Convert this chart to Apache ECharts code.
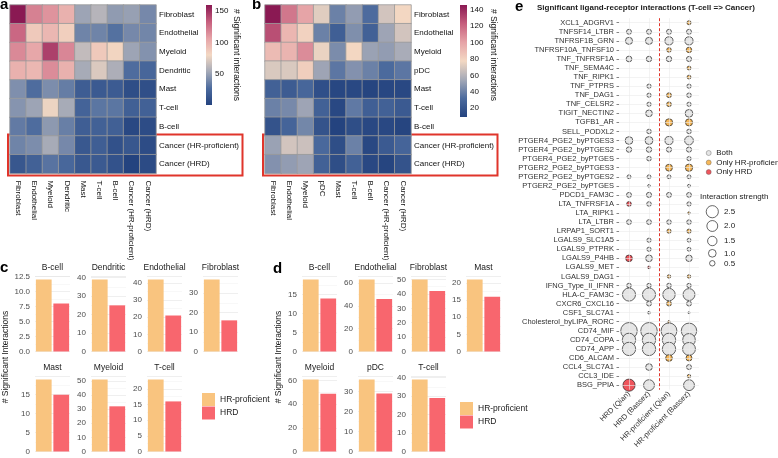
<!DOCTYPE html>
<html>
<head>
<meta charset="utf-8">
<script src="https://cdn.jsdelivr.net/npm/echarts@6/dist/echarts.min.js"></script>
<style>
  html, body { margin: 0; padding: 0; background: #fff; }
  #chart { width: 778px; height: 458px; }
</style>
</head>
<body>
<div id="chart"></div>
<script>
// ---------- data ----------
const heatRowsA = ["Fibroblast", "Endothelial", "Myeloid", "Dendritic", "Mast", "T-cell", "B-cell", "Cancer (HR-proficient)", "Cancer (HRD)"];
const heatA = [
  [160, 120, 113, 100, 52, 60, 48, 50, 40],
  [130, 88, 97, 85, 38, 38, 30, 40, 39],
  [117, 105, 145, 118, 64, 88, 82, 52, 44],
  [100, 97, 116, 100, 55, 72, 57, 28, 24],
  [43, 28, 42, 35, 18, 16, 17, 8, 9],
  [45, 52, 78, 55, 22, 32, 32, 20, 21],
  [34, 28, 47, 36, 19, 21, 20, 4, 7],
  [38, 42, 55, 40, 15, 19, 10, 14, 7],
  [14, 21, 31, 25, 15, 16, 11, 1, 6]
];
const heatTicksA = [50, 100, 150];

const heatRowsB = ["Fibroblast", "Endothelial", "Myeloid", "pDC", "Mast", "T-cell", "B-cell", "Cancer (HR-proficient)", "Cancer (HRD)"];
const heatB = [
  [146, 115, 100, 72, 40, 50, 32, 68, 78],
  [128, 92, 80, 40, 25, 45, 26, 53, 68],
  [90, 93, 108, 75, 44, 78, 52, 50, 56],
  [70, 70, 82, 53, 36, 46, 40, 31, 36],
  [26, 23, 29, 16, 11, 12, 10, 11, 12],
  [40, 43, 53, 26, 12, 37, 25, 26, 22],
  [18, 28, 42, 18, 9, 15, 12, 12, 10],
  [52, 68, 66, 30, 15, 40, 12, 22, 28],
  [46, 50, 53, 26, 15, 26, 12, 10, 18]
];
const heatTicksB = [20, 40, 60, 80, 100, 120, 140];

const groups = ["HR-proficient", "HRD"];

const cellsC = ["B-cell", "Dendritic", "Endothelial", "Fibroblast", "Mast", "Myeloid", "T-cell"];
const hrpC = [12, 39, 42, 37, 19, 51, 23];
const hrdC = [8, 25, 21, 16, 15, 32, 16];
const stepC = [2.5, 10, 10, 10, 5, 10, 5];

const cellsD = ["B-cell", "Endothelial", "Fibroblast", "Mast", "Myeloid", "pDC", "T-cell"];
const hrpD = [19, 63, 50, 21, 61, 36, 39];
const hrdD = [14, 46, 42, 16, 49, 29, 29];
const stepD = [5, 20, 10, 5, 20, 10, 10];

const lrCols = ["HRD (Qian)", "HRD (Bassez)", "HR-proficient (Qian)", "HR-proficient (Bassez)"];
const lrPairs = [
  "XCL1_ADGRV1", "TNFSF14_LTBR", "TNFRSF1B_GRN", "TNFRSF10A_TNFSF10", "TNF_TNFRSF1A",
  "TNF_SEMA4C", "TNF_RIPK1", "TNF_PTPRS", "TNF_DAG1", "TNF_CELSR2",
  "TIGIT_NECTIN2", "TGFB1_AR", "SELL_PODXL2", "PTGER4_PGE2_byPTGES3", "PTGER4_PGE2_byPTGES2",
  "PTGER4_PGE2_byPTGES", "PTGER2_PGE2_byPTGES3", "PTGER2_PGE2_byPTGES2", "PTGER2_PGE2_byPTGES", "PDCD1_FAM3C",
  "LTA_TNFRSF1A", "LTA_RIPK1", "LTA_LTBR", "LRPAP1_SORT1", "LGALS9_SLC1A5",
  "LGALS9_PTPRK", "LGALS9_P4HB", "LGALS9_MET", "LGALS9_DAG1", "IFNG_Type_II_IFNR",
  "HLA-C_FAM3C", "CXCR6_CXCL16", "CSF1_SLC7A1", "Cholesterol_byLIPA_RORC", "CD74_MIF",
  "CD74_COPA", "CD74_APP", "CD6_ALCAM", "CCL4_SLC7A1", "CCL3_IDE", "BSG_PPIA"
];
// interaction strength per column (null = not significant)
const strHRDQian = [null, 0.42, 0.85, null, 0.55, null, null, null, null, null, null, null, null, 1.0, 0.5, null, null, 0.25, null, 0.42, 0.37, null, 0.4, null, null, null, 0.75, null, null, 0.35, 2.9, null, null, null, 4.6, 3.0, 3.0, null, null, null, 2.5];
const strHRDBassez = [null, 0.42, 0.85, null, 0.5, null, null, 0.3, 0.3, 0.3, 0.75, null, 0.35, 1.05, 0.5, 0.35, null, 0.25, 0.12, 0.45, 0.35, null, 0.4, null, 0.3, 0.3, 0.75, 0.12, null, 0.32, 2.9, 0.4, 0.12, null, 4.6, 3.0, 3.0, null, 0.75, null, 2.0];
const strHRPQian = [null, 0.42, 1.1, 0.35, 0.5, null, null, null, 0.4, 0.38, null, 0.9, null, 1.1, 0.45, null, 0.8, 0.25, null, 0.42, null, null, 0.35, 0.3, null, null, null, null, 0.2, 0.35, 2.6, 0.4, null, 0.1, 4.2, 3.0, 3.0, 0.75, null, null, null];
const strHRPBassez = [0.28, 0.42, 1.1, 0.5, 0.45, 0.25, 0.25, 0.3, 0.35, 0.3, 1.0, 0.85, 0.35, 1.3, 0.45, 0.3, 0.9, 0.25, 0.15, 0.4, 0.3, 0.1, 0.35, 0.3, 0.25, 0.25, 0.7, null, 0.2, 0.32, 2.4, 0.4, 0.07, null, 4.0, 2.7, 2.8, 0.6, 0.42, 0.2, 2.0];
const kinds = ["Both", "Only HR-proficient", "Only HRD"];
const sizeLegend = [2.5, 2.0, 1.5, 1.0, 0.5];

// ---------- styling ----------
const font = "Liberation Sans, Arial, Helvetica, sans-serif";
const heatPalette = ["#24437f", "#4c6b9e", "#a4a9b7", "#f3d8c3", "#e6a3a7", "#c65e7d", "#8a1953"];
const colHRP = "#f9c47f";
const colHRD = "#f8666e";
const kindColors = { "Both": "#e5e5e5", "Only HR-proficient": "#f6b758", "Only HRD": "#ef555c" };
const dotSize = v => 7.7 * Math.sqrt(v);

const option = {
  animation: false,
  backgroundColor: "#fff",
  textStyle: { fontFamily: font },
  grid: [], xAxis: [], yAxis: [], series: [], visualMap: [], legend: [], graphic: []
};

function txt(text, x, y, o) {
  o = o || {};
  option.graphic.push({
    type: "text", x: x, y: y, rotation: o.rot || 0, silent: true,
    style: {
      text: text, fontSize: o.size || 8, fontFamily: font, fontWeight: o.bold ? "bold" : "normal",
      fill: o.color || "#1a1a1a", textAlign: o.align || "left", textVerticalAlign: o.valign || "middle"
    }
  });
}

// ---------- heatmaps (a, b) ----------
const heatTop = 5, heatW = 146, heatH = 168.4;
function addHeatmap(left, rows, values, ticks, barX, barW, barH, titleX) {
  const gi = option.grid.length;
  option.grid.push({ left: left, top: heatTop, width: heatW, height: heatH, outerBoundsMode: "none" });
  const xi = option.xAxis.length, yi = option.yAxis.length;
  option.xAxis.push({
    gridIndex: gi, type: "category", data: rows, position: "bottom",
    axisLine: { show: false }, axisTick: { show: false }, splitLine: { show: false },
    axisLabel: { rotate: -90, interval: 0, fontSize: 8, color: "#111", margin: 7 }
  });
  option.yAxis.push({
    gridIndex: gi, type: "category", data: rows, inverse: true, position: "right",
    axisLine: { show: false }, axisTick: { show: false }, splitLine: { show: false },
    axisLabel: { interval: 0, fontSize: 8, color: "#111", margin: 3 }
  });
  const data = [];
  values.forEach((row, r) => row.forEach((v, c) => data.push([c, r, v])));
  const si = option.series.length;
  option.series.push({
    type: "heatmap", xAxisIndex: xi, yAxisIndex: yi, data: data,
    itemStyle: { borderColor: "#9a9a9a", borderWidth: 0.8 }, emphasis: { disabled: true }
  });
  const flat = values.flat();
  const min = Math.min.apply(null, flat), max = Math.max.apply(null, flat);
  option.visualMap.push({ type: "continuous", show: false, seriesIndex: si, dimension: 2, min: min, max: max, inRange: { color: heatPalette } });

  // colour bar
  option.graphic.push({
    type: "rect", silent: true, shape: { x: barX, y: heatTop, width: barW, height: barH },
    style: { fill: { type: "linear", x: 0, y: 1, x2: 0, y2: 0, colorStops: heatPalette.map((c, i) => ({ offset: i / (heatPalette.length - 1), color: c })) } }
  });
  ticks.forEach(t => txt(String(t), barX + barW + 3, heatTop + (max - t) / (max - min) * barH, { size: 8, color: "#111" }));
  txt("# Significant interactions", titleX, heatTop + 50, { size: 8.5, rot: -Math.PI / 2, align: "center", color: "#111" });

  // highlight box round the two cancer rows
  const rowH = heatH / rows.length;
  option.graphic.push({
    type: "rect", silent: true,
    shape: { x: left - 2, y: heatTop + 7 * rowH - 1.5, width: 234.5, height: 2 * rowH + 3.5 },
    style: { fill: "none", stroke: "#e0352b", lineWidth: 2 }
  });
}
addHeatmap(10, heatRowsA, heatA, heatTicksA, 206, 6, 100, 236.5);
addHeatmap(265, heatRowsB, heatB, heatTicksB, 460, 7, 112, 493);

// ---------- bar facets (c, d) ----------
const barW = 35, barH = 75.6;
const rowBottoms = [351.5, 451.5];
function addBar(left, rowIdx, name, hrp, hrd, step) {
  const top = rowBottoms[rowIdx] - barH;
  const gi = option.grid.length;
  option.grid.push({ left: left, top: top, width: barW, height: barH, outerBoundsMode: "none" });
  const xi = option.xAxis.length, yi = option.yAxis.length;
  option.xAxis.push({
    gridIndex: gi, type: "category", data: groups,
    axisLine: { show: false }, axisTick: { show: false }, axisLabel: { show: false }, splitLine: { show: false }
  });
  const dec = step % 1 === 0 ? 0 : 1;
  option.yAxis.push({
    gridIndex: gi, type: "value", min: 0, max: Math.max(hrp, hrd) * 1.05, interval: step,
    axisLine: { show: false }, axisTick: { show: false },
    axisLabel: { fontSize: 8, color: "#4d4d4d", margin: 5, showMaxLabel: false, formatter: v => v.toFixed(dec) },
    splitLine: { lineStyle: { color: "#e4e4e4", width: 0.6 } },
    minorTick: { show: false, splitNumber: 2 },
    minorSplitLine: { show: true, lineStyle: { color: "#f1f1f1", width: 0.5 } }
  });
  option.series.push({
    type: "bar", name: groups[0], xAxisIndex: xi, yAxisIndex: yi, stack: "s" + gi,
    data: [hrp, "-"], barWidth: "90%", itemStyle: { color: colHRP }, emphasis: { disabled: true }
  });
  option.series.push({
    type: "bar", name: groups[1], xAxisIndex: xi, yAxisIndex: yi, stack: "s" + gi,
    data: ["-", hrd], barWidth: "90%", itemStyle: { color: colHRD }, emphasis: { disabled: true }
  });
  txt(name, left + barW / 2, top - 8, { size: 8.5, align: "center" });
}
const leftsC = [35, 91, 147, 203];
const leftsD = [302, 358, 411, 466];
cellsC.forEach((n, i) => addBar(leftsC[i % 4], i < 4 ? 0 : 1, n, hrpC[i], hrdC[i], stepC[i]));
cellsD.forEach((n, i) => addBar(leftsD[i % 4], i < 4 ? 0 : 1, n, hrpD[i], hrdD[i], stepD[i]));
txt("# Significant Interactions", 6, 357, { size: 8.5, rot: Math.PI / 2, align: "center" });
txt("# Significant Interactions", 278.5, 357, { size: 8.5, rot: Math.PI / 2, align: "center" });

const barLegend = { data: groups, orient: "vertical", icon: "rect", itemWidth: 13, itemHeight: 13, itemGap: 0.5, selectedMode: false, textStyle: { fontSize: 8.5, color: "#1a1a1a" } };
option.legend.push(Object.assign({ left: 197, top: 388 }, barLegend));
option.legend.push(Object.assign({ left: 455, top: 397 }, barLegend));

// ---------- dot plot (e) ----------
const eLeft = 619, eTop = 18.2, eW = 80, eH = 371.5;
const egi = option.grid.length;
option.grid.push({ left: eLeft, top: eTop, width: eW, height: eH, outerBoundsMode: "none" });
const eXc = option.xAxis.length;
option.xAxis.push({
  gridIndex: egi, type: "category", data: lrCols,
  axisLine: { show: false }, axisTick: { show: false }, splitLine: { show: false },
  axisLabel: { rotate: 45, interval: 0, fontSize: 7.5, color: "#333", margin: 3 }
});
const eXv = option.xAxis.length;
option.xAxis.push({ gridIndex: egi, type: "value", min: 0, max: 4, show: false });
const eY = option.yAxis.length;
option.yAxis.push({
  gridIndex: egi, type: "category", data: lrPairs, inverse: true,
  axisLine: { show: false }, splitLine: { show: false },
  axisTick: { show: true, alignWithLabel: true, length: 2.5, lineStyle: { color: "#333", width: 0.6 } },
  axisLabel: { interval: 0, fontSize: 7.5, color: "#333", margin: 5 }
});

// panel grid lines + dashed divider between HRD and HR-proficient columns
const gridLine = { color: "#ebebeb", width: 0.6, type: "solid" };
option.series.push({
  type: "line", xAxisIndex: eXv, yAxisIndex: eY, data: [], z: 1, silent: true,
  markLine: {
    silent: true, symbol: ["none", "none"], label: { show: false }, animation: false,
    lineStyle: gridLine,
    data: lrPairs.map(p => ({ yAxis: p }))
      .concat([0.5, 1.5, 2.5, 3.5].map(v => ({ xAxis: v })))
      .concat([{ xAxis: 2, lineStyle: { color: "#e0352b", width: 1, type: [3, 2] } }])
  }
});

const strCols = [strHRDQian, strHRDBassez, strHRPQian, strHRPBassez];
const pts = { "Both": [], "Only HR-proficient": [], "Only HRD": [] };
lrPairs.forEach((p, r) => strCols.forEach((arr, c) => {
  const v = arr[r];
  if (v == null) return;
  const partner = strCols[(c + 2) % 4][r];
  const kind = partner != null ? "Both" : (c < 2 ? "Only HRD" : "Only HR-proficient");
  pts[kind].push([lrCols[c], p, v]);
}));
kinds.forEach(k => option.series.push({
  type: "scatter", name: k, xAxisIndex: eXc, yAxisIndex: eY, data: pts[k], z: 3,
  symbol: "circle", symbolSize: d => dotSize(d[2]),
  itemStyle: { color: kindColors[k], borderColor: "#262626", borderWidth: 0.7, opacity: 1 },
  emphasis: { disabled: true }
}));
option.legend.push({
  data: kinds, left: 701, top: 144, orient: "vertical", icon: "circle",
  itemWidth: 5, itemHeight: 5, itemGap: 1.5, selectedMode: false,
  itemStyle: { borderWidth: 0.4, borderColor: "#555" },
  textStyle: { fontSize: 8, color: "#1a1a1a" }
});

// size legend
txt("Interaction strength", 700, 196.7, { size: 8 });
const sizeY = [211.7, 226, 241, 253.3, 263.3];
sizeLegend.forEach((v, i) => {
  option.graphic.push({
    type: "circle", silent: true, shape: { cx: 712.3, cy: sizeY[i], r: dotSize(v) / 2 },
    style: { fill: "#fff", stroke: "#262626", lineWidth: 0.7 }
  });
  txt(v.toFixed(1), 724, sizeY[i], { size: 8 });
});

// titles and panel letters
txt("Significant ligand-receptor interactions (T-cell => Cancer)", 537, 8, { size: 8, bold: true });
txt("a", 0, 5, { size: 15, bold: true, color: "#000" });
txt("b", 252, 5, { size: 15, bold: true, color: "#000" });
txt("c", 0, 268, { size: 15, bold: true, color: "#000" });
txt("d", 273, 269, { size: 15, bold: true, color: "#000" });
txt("e", 515, 7, { size: 15, bold: true, color: "#000" });

const chart = echarts.init(document.getElementById("chart"));
chart.setOption(option);
</script>
</body>
</html>
